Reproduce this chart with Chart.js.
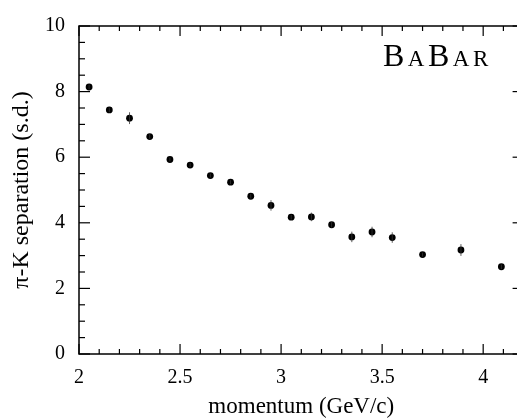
<!DOCTYPE html>
<html>
<head>
<meta charset="utf-8">
<script src="https://cdn.jsdelivr.net/npm/chart.js@4/dist/chart.umd.min.js"></script>
<style>
  html, body { margin: 0; padding: 0; background: #fff; overflow: hidden; width: 517px; height: 420px; }
  #wrap { width: 527px; height: 420px; }
</style>
</head>
<body>
<div id="wrap"><canvas id="c" width="527" height="420"></canvas></div>
<script>
// ---- data ----
const momentum   = [2.05, 2.15, 2.25, 2.35, 2.45, 2.55, 2.65, 2.75, 2.85, 2.95, 3.05, 3.15, 3.25, 3.35, 3.45, 3.55, 3.70, 3.89, 4.09];
const separation = [8.14, 7.44, 7.19, 6.63, 5.93, 5.76, 5.44, 5.24, 4.81, 4.53, 4.17, 4.18, 3.94, 3.57, 3.72, 3.55, 3.03, 3.17, 2.66];
const sepError   = [0.07, 0.07, 0.18, 0.07, 0.06, 0.06, 0.06, 0.06, 0.07, 0.16, 0.07, 0.13, 0.08, 0.16, 0.16, 0.16, 0.06, 0.18, 0.07];

const xMajorTicks = [2, 2.5, 3, 3.5, 4];
const xMinorTicks = [2.1, 2.2, 2.3, 2.4, 2.6, 2.7, 2.8, 2.9, 3.1, 3.2, 3.3, 3.4, 3.6, 3.7, 3.8, 3.9, 4.1];
const yMajorTicks = [0, 2, 4, 6, 8, 10];
const yMinorTicks = [0.5, 1, 1.5, 2.5, 3, 3.5, 4.5, 5, 5.5, 6.5, 7, 7.5, 8.5, 9, 9.5];
const xRange = [2, 4.2];
const yRange = [0, 10];

const xTitle = 'momentum (GeV/c)';
const yTitle = 'π-K separation (s.d.)';
const logoLetters = [['B', 'big'], ['A', 'small'], ['B', 'big'], ['A', 'small'], ['R', 'small']];

const FONT = "'Liberation Serif', 'Times New Roman', serif";

const framePlugin = {
  id: 'frame',
  afterDatasetsDraw(chart) {
    const { ctx, scales: { x, y } } = chart;
    ctx.save();
    ctx.strokeStyle = '#333';
    ctx.lineWidth = 0.8;
    momentum.forEach((m, i) => {
      const px = x.getPixelForValue(m);
      const p1 = y.getPixelForValue(separation[i] - sepError[i]);
      const p2 = y.getPixelForValue(separation[i] + sepError[i]);
      ctx.beginPath();
      ctx.moveTo(px, p1);
      ctx.lineTo(px, p2);
      ctx.stroke();
    });
    ctx.restore();
  },
  afterDraw(chart) {
    const { ctx, chartArea: a, scales: { x, y } } = chart;
    ctx.save();
    ctx.strokeStyle = '#000';
    ctx.lineWidth = 1.5;
    ctx.strokeRect(a.left, a.top, a.right - a.left, a.bottom - a.top);
    ctx.lineWidth = 1.2;
    const tick = (x1, y1, x2, y2) => { ctx.beginPath(); ctx.moveTo(x1, y1); ctx.lineTo(x2, y2); ctx.stroke(); };
    xMajorTicks.forEach(v => { const p = x.getPixelForValue(v); tick(p, a.bottom, p, a.bottom - 10); tick(p, a.top, p, a.top + 10); });
    xMinorTicks.forEach(v => { const p = x.getPixelForValue(v); tick(p, a.bottom, p, a.bottom - 5); tick(p, a.top, p, a.top + 5); });
    yMajorTicks.forEach(v => { const p = y.getPixelForValue(v); tick(a.left, p, a.left + 11, p); tick(a.right, p, a.right - 11, p); });
    yMinorTicks.forEach(v => { const p = y.getPixelForValue(v); tick(a.left, p, a.left + 6, p); tick(a.right, p, a.right - 6, p); });
    // BABAR logo
    ctx.fillStyle = '#000';
    ctx.textBaseline = 'alphabetic';
    ctx.textAlign = 'left';
    let cx = 383;
    logoLetters.forEach(([ch, sz]) => {
      ctx.font = (sz === 'big' ? '32px ' : '23px ') + FONT;
      ctx.fillText(ch, cx, 66);
      cx += ctx.measureText(ch).width + 3.5;
    });
    ctx.restore();
  }
};

const fmt = v => String(Math.round(v * 100) / 100);

new Chart(document.getElementById('c'), {
  type: 'scatter',
  data: {
    datasets: [{
      data: momentum.map((m, i) => ({ x: m, y: separation[i] })),
      backgroundColor: '#000',
      borderColor: '#000',
      pointRadius: 3.4,
      pointHoverRadius: 3.4,
      borderWidth: 0
    }]
  },
  options: {
    responsive: false,
    animation: false,
    events: [],
    layout: { padding: { left: 0, top: 14, right: 1.4, bottom: 0 } },
    plugins: { legend: { display: false }, tooltip: { enabled: false } },
    scales: {
      x: {
        type: 'linear',
        min: xRange[0], max: xRange[1],
        afterBuildTicks: s => { s.ticks = xMajorTicks.map(v => ({ value: v })); },
        afterFit: s => { s.height = 66; },
        grid: { display: false, drawTicks: false },
        border: { display: false },
        ticks: { color: '#000', font: { family: FONT, size: 20 }, padding: 12, maxRotation: 0, autoSkip: false, callback: fmt },
        title: { display: true, text: xTitle, color: '#000', font: { family: FONT, size: 23, lineHeight: 1.1 }, padding: { top: 0, bottom: 0 } }
      },
      y: {
        type: 'linear',
        min: yRange[0], max: yRange[1],
        afterBuildTicks: s => { s.ticks = yMajorTicks.map(v => ({ value: v })); },
        afterFit: s => { s.width = 79; },
        grid: { display: false, drawTicks: false },
        border: { display: false },
        ticks: { color: '#000', font: { family: FONT, size: 20 }, padding: 14, autoSkip: false, callback: fmt },
        title: { display: true, text: yTitle, color: '#000', font: { family: FONT, size: 24, lineHeight: 1.1 }, padding: { top: 9, bottom: 0 } }
      }
    }
  },
  plugins: [framePlugin]
});
</script>
</body>
</html>
